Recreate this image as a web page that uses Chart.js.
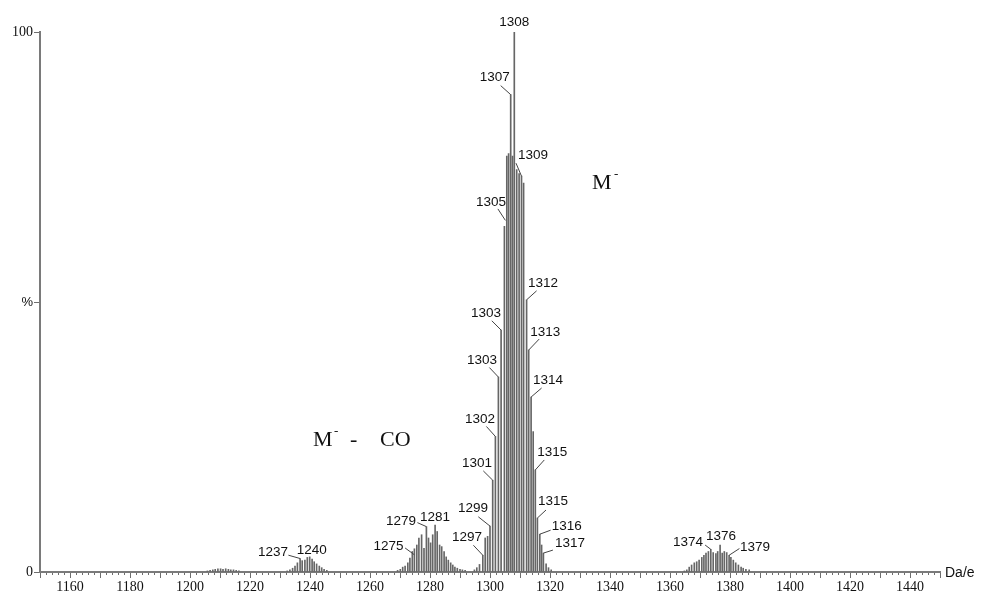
<!DOCTYPE html>
<html>
<head>
<meta charset="utf-8">
<script src="https://cdn.jsdelivr.net/npm/chart.js@4.4.1/dist/chart.umd.min.js"></script>
<style>
  html, body { margin: 0; padding: 0; background: #ffffff; }
  #wrap { position: relative; width: 981px; height: 594px; }
</style>
</head>
<body>
<div id="wrap"><canvas id="spectrum" width="981" height="594"></canvas></div>
<script>
// ---- Peak centroids (Da/e) and relative intensities (%) ----
const noiseMass = [1205.8, 1206.7, 1207.6, 1208.4, 1209.3, 1210.2, 1211.0, 1211.9, 1212.8, 1213.6, 1214.5, 1215.4, 1216.3];
const noiseInt  = [0.2, 0.3, 0.4, 0.5, 0.6, 0.6, 0.5, 0.6, 0.5, 0.4, 0.4, 0.3, 0.2];

const cluster1240Mass = [1232.4, 1233.3, 1234.2, 1235.0, 1235.8, 1236.7, 1237.4, 1238.3, 1239.1, 1239.9, 1240.7, 1241.4, 1242.2, 1243.1, 1243.9, 1244.7, 1245.6];
const cluster1240Int  = [0.2, 0.4, 0.7, 1.1, 1.7, 2.5, 2.1, 2.2, 2.7, 2.8, 2.4, 1.9, 1.5, 1.1, 0.8, 0.5, 0.3];

const cluster1280Mass = [1269.2, 1270.1, 1270.9, 1271.7, 1272.6, 1273.3, 1274.1, 1274.8, 1275.6, 1276.3, 1277.2, 1278.0, 1278.8, 1279.5, 1280.2, 1280.9, 1281.7, 1282.4, 1283.2, 1283.9, 1284.7, 1285.4, 1286.1, 1286.9, 1287.6, 1288.3, 1289.1, 1290.0, 1290.8, 1291.7];
const cluster1280Int  = [0.3, 0.5, 0.9, 1.1, 1.7, 2.6, 3.8, 4.3, 5.0, 6.3, 6.9, 4.4, 8.4, 6.3, 5.4, 6.9, 8.7, 7.5, 5.0, 4.7, 3.8, 2.8, 2.2, 1.7, 1.3, 0.9, 0.7, 0.5, 0.4, 0.3];

const cluster1308Mass = [1294.8, 1295.6, 1296.5, 1297.6, 1298.4, 1299.2, 1300.0, 1300.9, 1301.8, 1302.8, 1303.7, 1304.8, 1305.6, 1306.2, 1306.9, 1307.5, 1308.1, 1308.9, 1309.7, 1310.5, 1311.2, 1312.2, 1312.9, 1313.7, 1314.4, 1315.1, 1315.8, 1316.6, 1317.2, 1317.8, 1318.7, 1319.5, 1320.4];
const cluster1308Int  = [0.4, 0.8, 1.4, 3.1, 6.3, 6.6, 8.5, 17.0, 25.1, 36.1, 44.8, 64.0, 77.0, 77.5, 88.4, 77.0, 100, 74.5, 73.8, 73.3, 72.0, 50.4, 41.1, 32.4, 26.0, 18.9, 10.0, 7.0, 5.0, 3.5, 1.5, 0.8, 0.4];

const cluster1376Mass = [1364.8, 1365.6, 1366.4, 1367.2, 1368.1, 1368.9, 1369.7, 1370.6, 1371.3, 1372.0, 1372.8, 1373.6, 1374.4, 1375.3, 1375.9, 1376.7, 1377.4, 1378.1, 1378.9, 1379.7, 1380.3, 1381.1, 1381.9, 1382.8, 1383.7, 1384.4, 1385.3, 1386.4];
const cluster1376Int  = [0.2, 0.4, 0.9, 1.3, 1.7, 1.9, 2.2, 2.7, 3.1, 3.5, 3.8, 4.2, 3.6, 3.4, 3.8, 5.0, 3.5, 3.8, 3.6, 3.1, 2.7, 2.2, 1.7, 1.3, 0.9, 0.7, 0.5, 0.4];

// ---- Axis ranges and tick labels ----
const massMin = 1150;
const massMax = 1450;
const massLabelEvery = 20;
const yTickText = { 0: '0', 50: '%', 100: '100' };

// ---- Peak annotations: printed mass and the centroid it marks ----
const peakText = ['1237', '1240', '1275', '1279', '1281', '1297', '1299', '1301', '1302', '1303', '1303', '1305', '1307', '1308', '1309', '1312', '1313', '1314', '1315', '1315', '1316', '1317', '1374', '1376', '1379'];
const peakMass = [1236.7, 1239.9, 1274.8, 1278.8, 1281.7, 1297.6, 1300.0, 1300.9, 1301.8, 1302.8, 1303.7, 1304.8, 1306.9, 1308.1, 1310.5, 1312.2, 1312.9, 1313.7, 1315.1, 1315.8, 1316.6, 1317.8, 1373.6, 1376.7, 1379.7];

// Label placement relative to the bar top: [textDx, textDy, leaderStartDx, leaderStartDy, leaderEndDx, leaderEndDy]
const peakPlacement = [
  [-27, -6.6, -11.7, -3.3, 0, 0],
  [2, -7],
  [-26, -2, -9.3, -0.8, 0, 6],
  [-25.3, -5, -9, -4, 0, 0],
  [0, -7.5],
  [-15.7, -18.3, -9.4, -10, 0, 0],
  [-17, -18, -11.7, -9.3, 0, 0],
  [-15.7, -17, -9.4, -9.3, 0, 0],
  [-15.5, -17.5, -9, -10, 0, 0],
  [-16.5, -17, -9, -9.5, 0, 0],
  [-15, -17, -9.3, -9.3, 0, 0],
  [-13.5, -24.5, -6.5, -17.5, 1, -6],
  [-16, -17, -10, -9, 0, 0],
  [0, -10],
  [11.5, -21, -5.5, -13, 0, 0],
  [16.5, -17, 10, -9, 0, 0],
  [16.5, -18, 10.5, -11, 0, 0],
  [17, -17, 10.5, -9, 0, 0],
  [17, -17.5, 9, -10, 0, 0],
  [15.6, -16.3, 8.6, -8, 0, 0],
  [27, -8, 10.8, -4, 0, 0],
  [26.5, -10, 9.5, -3, 0, 0],
  [-22.7, -6.6, -5.7, -4.3, 0, 0],
  [1, -8.3],
  [26, -8.3, 10.3, -6.7, 0, 0]
];

// ---- Build the stick list ----
const allMass = [].concat(noiseMass, cluster1240Mass, cluster1280Mass, cluster1308Mass, cluster1376Mass);
const allInt  = [].concat(noiseInt, cluster1240Int, cluster1280Int, cluster1308Int, cluster1376Int);
const sticks = allMass.map((m, i) => ({ x: m, y: allInt[i] }));

const SERIF = '"Liberation Serif", "Times New Roman", serif';
const SANS = '"Liberation Sans", Arial, sans-serif';

// Draws the peak mass labels with their leader lines, plus the ion annotations
const peakLabelPlugin = {
  id: 'peakLabels',
  afterDatasetsDraw(chart) {
    const ctx = chart.ctx;
    const meta = chart.getDatasetMeta(0);
    ctx.save();
    ctx.font = '13.5px ' + SANS;
    ctx.textAlign = 'center';
    ctx.textBaseline = 'middle';
    ctx.strokeStyle = '#444';
    ctx.lineWidth = 1;
    peakText.forEach((txt, k) => {
      let idx = 0, best = Infinity;
      allMass.forEach((m, i) => {
        const d = Math.abs(m - peakMass[k]);
        if (d < best) { best = d; idx = i; }
      });
      const el = meta.data[idx];
      const p = peakPlacement[k];
      const bx = el.x, by = el.y;
      if (p.length > 2) {
        ctx.beginPath();
        ctx.moveTo(bx + p[2], by + p[3]);
        ctx.lineTo(bx + p[4], by + p[5]);
        ctx.stroke();
      }
      ctx.fillStyle = '#111';
      ctx.fillText(txt, bx + p[0], by + p[1]);
    });

    // axis unit at the end of the mass axis
    const xs = chart.scales.x;
    const ys = chart.scales.y;
    ctx.textAlign = 'left';
    ctx.font = '14px ' + SANS;
    ctx.fillStyle = '#111';
    ctx.fillText('Da/e', xs.right + 5, ys.getPixelForValue(0) + 1);

    // ion annotations
    ctx.textBaseline = 'alphabetic';
    ctx.font = '22px ' + SERIF;
    ctx.fillText('M', 592, 189);
    ctx.fillText('M', 313, 446);
    ctx.font = '13px ' + SERIF;
    ctx.fillText('-', 614, 178);
    ctx.fillText('-', 334, 435);
    ctx.font = '22px ' + SERIF;
    ctx.fillText('-', 350, 446);
    ctx.fillText('CO', 380, 446);
    ctx.restore();
  }
};

new Chart(document.getElementById('spectrum'), {
  type: 'bar',
  data: {
    datasets: [{
      data: sticks,
      backgroundColor: '#666666',
      borderWidth: 0,
      barThickness: 1,
      grouped: false
    }]
  },
  options: {
    responsive: false,
    animation: false,
    devicePixelRatio: 1,
    layout: { padding: { left: 0, right: 41, top: 32, bottom: 0 } },
    plugins: { legend: { display: false }, tooltip: { enabled: false } },
    scales: {
      x: {
        type: 'linear',
        position: 'bottom',
        min: massMin,
        max: massMax,
        offset: false,
        grid: { drawOnChartArea: false, drawTicks: true, tickLength: 3, tickColor: '#6e6e6e', offset: false },
        border: { display: true, color: '#7a7a7a', width: 2 },
        ticks: {
          stepSize: 2,
          autoSkip: false,
          maxRotation: 0,
          padding: 4,
          color: '#111',
          font: { family: SERIF, size: 14 },
          callback: (v) => {
            const r = Math.round(v);
            if (Math.abs(v - r) > 1e-6) return '';
            return (r % massLabelEvery === 0 && r > massMin && r < massMax) ? String(r) : '';
          }
        },
        afterFit: (s) => { s.height = 22; }
      },
      xMajor: {
        type: 'linear',
        axis: 'x',
        position: { y: 0 },
        min: massMin,
        max: massMax,
        offset: false,
        grid: { drawOnChartArea: false, drawTicks: true, tickLength: 6, tickColor: '#6e6e6e', offset: false },
        border: { display: false },
        ticks: { stepSize: 10, autoSkip: false, display: false }
      },
      y: {
        type: 'linear',
        min: 0,
        max: 100,
        grid: { drawOnChartArea: false, drawTicks: true, tickLength: 6, tickColor: '#6e6e6e' },
        border: { display: true, color: '#7a7a7a', width: 2 },
        ticks: {
          stepSize: 50,
          padding: 1,
          color: '#111',
          font: (c) => (c.tick && c.tick.value === 50)
            ? { family: SANS, size: 13 }
            : { family: SERIF, size: 14 },
          callback: (v) => (yTickText[v] !== undefined ? yTickText[v] : '')
        },
        afterFit: (s) => { s.width = 40; }
      }
    }
  },
  plugins: [peakLabelPlugin]
});
</script>
</body>
</html>
